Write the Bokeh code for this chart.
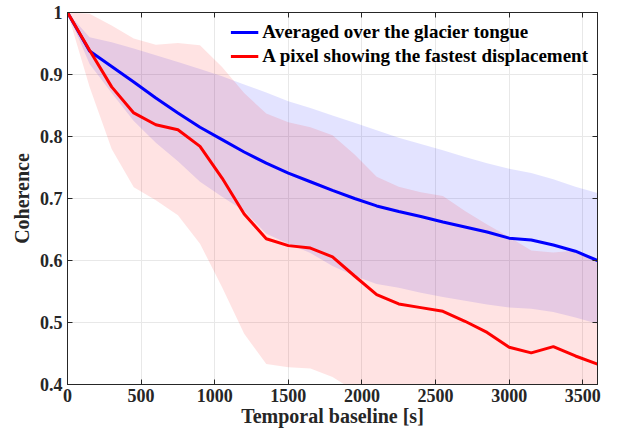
from bokeh.plotting import figure
from bokeh.models import Range1d, FixedTicker, LinearAxis, Legend, LegendItem
from bokeh.embed import file_html
from bokeh.resources import INLINE

# Data
t = [0, 150, 300, 450, 600, 750, 900, 1050, 1200, 1350, 1500, 1650, 1800,
     1950, 2100, 2250, 2400, 2550, 2700, 2850, 3000, 3150, 3300, 3450, 3600]
avg_mean = [1.0, 0.938, 0.913, 0.888, 0.862, 0.838, 0.815, 0.795, 0.775, 0.757, 0.741,
            0.727, 0.713, 0.700, 0.688, 0.679, 0.671, 0.662, 0.654, 0.646, 0.636,
            0.633, 0.625, 0.615, 0.600]
avg_upper = [1.0, 0.960, 0.952, 0.942, 0.931, 0.920, 0.909, 0.897, 0.884, 0.871, 0.857,
             0.846, 0.834, 0.822, 0.810, 0.798, 0.788, 0.778, 0.767, 0.757, 0.748,
             0.741, 0.731, 0.719, 0.709]
avg_lower = [1.0, 0.917, 0.870, 0.825, 0.790, 0.760, 0.727, 0.703, 0.680, 0.643, 0.627,
             0.612, 0.591, 0.575, 0.562, 0.556, 0.548, 0.541, 0.535, 0.529, 0.524,
             0.522, 0.517, 0.508, 0.498]
px_mean = [1.0, 0.939, 0.880, 0.838, 0.819, 0.811, 0.784, 0.733, 0.675, 0.635, 0.624,
           0.620, 0.606, 0.575, 0.545, 0.530, 0.524, 0.518, 0.502, 0.484, 0.460,
           0.451, 0.461, 0.446, 0.433]
px_upper = [1.0, 0.998, 0.979, 0.958, 0.948, 0.951, 0.947, 0.912, 0.870, 0.837, 0.823,
            0.815, 0.802, 0.771, 0.735, 0.719, 0.710, 0.704, 0.680, 0.658, 0.638,
            0.616, 0.613, 0.616, 0.600]
px_lower = [1.0, 0.880, 0.780, 0.718, 0.697, 0.673, 0.627, 0.557, 0.482, 0.433, 0.428,
            0.426, 0.412, 0.390, 0.370, 0.360, 0.350, 0.340, 0.330, 0.320, 0.310,
            0.305, 0.300, 0.295, 0.290]
x_ticks = [0, 500, 1000, 1500, 2000, 2500, 3000, 3500]
y_ticks = [0.4, 0.5, 0.6, 0.7, 0.8, 0.9, 1.0]
label_avg = "Averaged over the glacier tongue"
label_px = "A pixel showing the fastest displacement"

FONT = "Liberation Serif"
TXT = "#262626"

p = figure(width=617, height=438, output_backend="svg", toolbar_location=None,
           x_range=Range1d(0, 3600), y_range=Range1d(0.4, 1.0),
           min_border_left=67, min_border_right=20, min_border_top=12,
           min_border_bottom=54)
p.background_fill_color = "white"
p.border_fill_color = "white"
p.outline_line_color = TXT
p.outline_line_width = 1

p.varea(x=t, y1=avg_lower, y2=avg_upper, fill_color="blue", fill_alpha=0.11)
p.varea(x=t, y1=px_lower, y2=px_upper, fill_color="red", fill_alpha=0.11)
r_avg = p.line(t, avg_mean, line_color="blue", line_width=3)
r_px = p.line(t, px_mean, line_color="red", line_width=3)

for ax in (p.xaxis[0], p.yaxis[0]):
    ax.major_tick_in = 5
    ax.major_tick_out = 0
    ax.minor_tick_in = 0
    ax.minor_tick_out = 0
    ax.axis_line_color = TXT
    ax.major_tick_line_color = TXT
    ax.major_label_text_font = FONT
    ax.major_label_text_font_style = "bold"
    ax.major_label_text_font_size = "18px"
    ax.major_label_text_color = TXT
    ax.axis_label_text_font = FONT
    ax.axis_label_text_font_style = "bold"
    ax.axis_label_text_font_size = "20px"
    ax.axis_label_text_color = TXT

p.xaxis[0].ticker = FixedTicker(ticks=x_ticks)
p.yaxis[0].ticker = FixedTicker(ticks=y_ticks)
p.yaxis[0].major_label_overrides = {1.0: "1"}
p.xaxis[0].axis_label = "Temporal baseline [s]"
p.yaxis[0].axis_label = "Coherence"
p.xaxis[0].major_label_standoff = 4
p.xaxis[0].axis_label_standoff = 0
p.yaxis[0].major_label_standoff = 5
p.yaxis[0].axis_label_standoff = 4

top = LinearAxis(ticker=FixedTicker(ticks=x_ticks),
                 major_label_overrides={v: "" for v in x_ticks},
                 major_tick_in=5, major_tick_out=0, minor_tick_in=0, minor_tick_out=0,
                 axis_line_color=TXT, major_tick_line_color=TXT)
right = LinearAxis(ticker=FixedTicker(ticks=y_ticks),
                   major_label_overrides={v: "" for v in y_ticks},
                   major_tick_in=5, major_tick_out=0, minor_tick_in=0, minor_tick_out=0,
                   axis_line_color=TXT, major_tick_line_color=TXT)
p.add_layout(top, "above")
p.add_layout(right, "right")

p.xgrid.grid_line_color = "#e8e8e8"
p.ygrid.grid_line_color = "#e8e8e8"
p.xgrid.ticker = FixedTicker(ticks=x_ticks)
p.ygrid.ticker = FixedTicker(ticks=y_ticks)

legend = Legend(items=[LegendItem(label=label_avg, renderers=[r_avg]),
                       LegendItem(label=label_px, renderers=[r_px])],
                location="top_right")
legend.border_line_color = None
legend.background_fill_alpha = 0
legend.label_text_font = FONT
legend.label_text_font_style = "bold"
legend.label_text_font_size = "19px"
legend.label_text_color = "black"
legend.glyph_width = 28
legend.label_standoff = 4
legend.spacing = 2
legend.padding = 9
legend.margin = 9
p.add_layout(legend)

open("out.html", "w").write(file_html(p, INLINE))
